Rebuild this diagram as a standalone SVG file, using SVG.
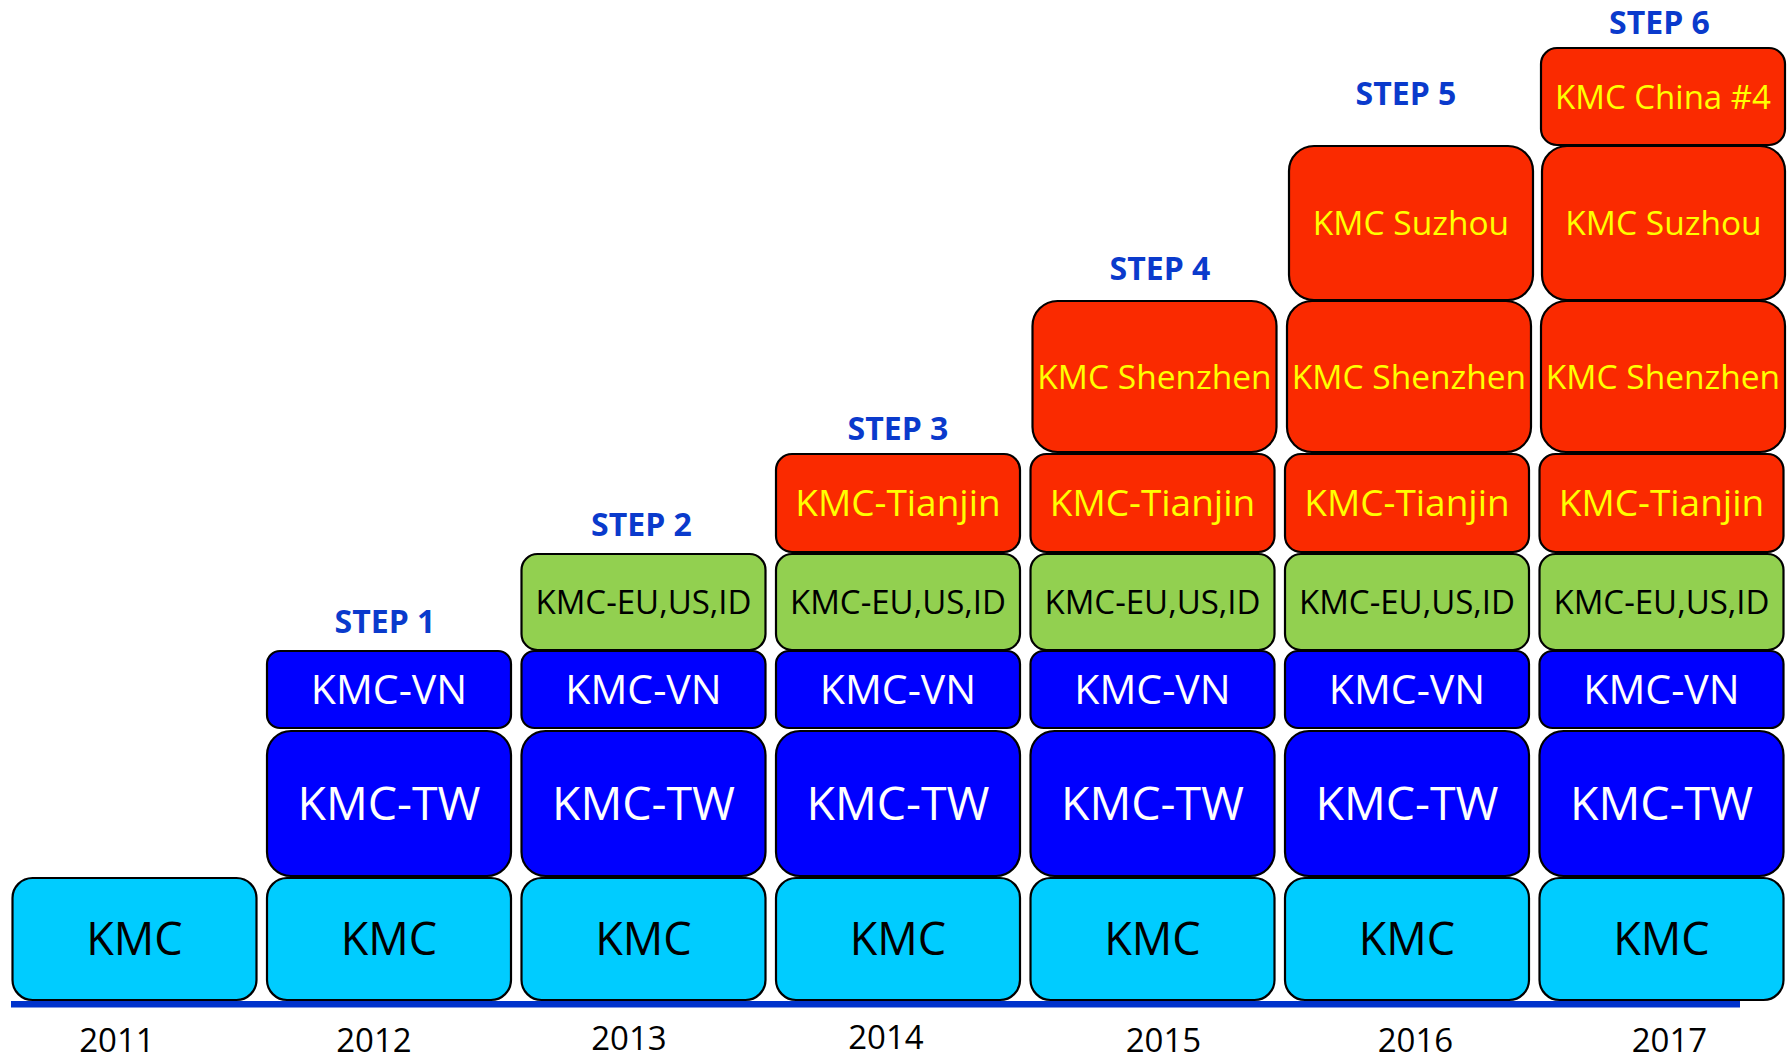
<svg xmlns="http://www.w3.org/2000/svg" width="1787" height="1059" viewBox="0 0 1787 1059">
<style>
.b{stroke:#000;stroke-width:2.2}
.kmc{fill:#00CCFF}
.blu{fill:#0000FF}
.grn{fill:#92D050}
.red{fill:#FA2A00}
text{font-family:"Open Sans","Noto Sans","DejaVu Sans",sans-serif;text-anchor:middle}
.tk{fill:#000;font-size:45px}
.tw{fill:#fff;font-size:46.5px}
.tv{fill:#fff;font-size:41px}
.te{fill:#000;font-size:33px}
.ty{fill:#FFFF00;font-size:37px}
.ts{fill:#FFFF00;font-size:33.5px}
.tc{fill:#FFFF00;font-size:33px}
.st{fill:#0A3ACC;font-size:32px;font-weight:bold}
.yr{fill:#000;font-size:33px}
</style>
<rect width="1787" height="1059" fill="#fff"/>
<g id="axis">
<rect x="11" y="1001" width="1729" height="6.5" fill="#0033CC"/>
</g>
<g id="connectors"></g>
<g id="col2011">
<g id="kmc-2011"><rect class="b kmc" x="12.5" y="878" width="244" height="122" rx="20"/><text class="tk" x="134.5" y="955">KMC</text></g>
</g>
<g id="col2012">
<g id="kmc-2012"><rect class="b kmc" x="267" y="878" width="244" height="122" rx="20"/><text class="tk" x="389" y="955">KMC</text></g>
<g id="tw-2012"><rect class="b blu" x="267" y="731" width="244" height="145" rx="24"/><text class="tw" x="389" y="820">KMC-TW</text></g>
<g id="vn-2012"><rect class="b blu" x="267" y="651" width="244" height="77" rx="13"/><text class="tv" x="389" y="704">KMC-VN</text></g>
</g>
<g id="col2013">
<g id="kmc-2013"><rect class="b kmc" x="521.5" y="878" width="244" height="122" rx="20"/><text class="tk" x="643.5" y="955">KMC</text></g>
<g id="tw-2013"><rect class="b blu" x="521.5" y="731" width="244" height="145" rx="24"/><text class="tw" x="643.5" y="820">KMC-TW</text></g>
<g id="vn-2013"><rect class="b blu" x="521.5" y="651" width="244" height="77" rx="13"/><text class="tv" x="643.5" y="704">KMC-VN</text></g>
<g id="eu-2013"><rect class="b grn" x="521.5" y="554" width="244" height="96" rx="16"/><text class="te" x="643.5" y="614">KMC-EU,US,ID</text></g>
</g>
<g id="col2014">
<g id="kmc-2014"><rect class="b kmc" x="776" y="878" width="244" height="122" rx="20"/><text class="tk" x="898" y="955">KMC</text></g>
<g id="tw-2014"><rect class="b blu" x="776" y="731" width="244" height="145" rx="24"/><text class="tw" x="898" y="820">KMC-TW</text></g>
<g id="vn-2014"><rect class="b blu" x="776" y="651" width="244" height="77" rx="13"/><text class="tv" x="898" y="704">KMC-VN</text></g>
<g id="eu-2014"><rect class="b grn" x="776" y="554" width="244" height="96" rx="16"/><text class="te" x="898" y="614">KMC-EU,US,ID</text></g>
<g id="tj-2014"><rect class="b red" x="776" y="454" width="244" height="98" rx="16"/><text class="ty" x="898" y="516">KMC-Tianjin</text></g>
</g>
<g id="col2015">
<g id="kmc-2015"><rect class="b kmc" x="1030.5" y="878" width="244" height="122" rx="20"/><text class="tk" x="1152.5" y="955">KMC</text></g>
<g id="tw-2015"><rect class="b blu" x="1030.5" y="731" width="244" height="145" rx="24"/><text class="tw" x="1152.5" y="820">KMC-TW</text></g>
<g id="vn-2015"><rect class="b blu" x="1030.5" y="651" width="244" height="77" rx="13"/><text class="tv" x="1152.5" y="704">KMC-VN</text></g>
<g id="eu-2015"><rect class="b grn" x="1030.5" y="554" width="244" height="96" rx="16"/><text class="te" x="1152.5" y="614">KMC-EU,US,ID</text></g>
<g id="tj-2015"><rect class="b red" x="1030.5" y="454" width="244" height="98" rx="16"/><text class="ty" x="1152.5" y="516">KMC-Tianjin</text></g>
<g id="sz-2015"><rect class="b red" x="1032.5" y="301" width="244" height="151" rx="25"/><text class="ts" x="1154.5" y="388.5">KMC Shenzhen</text></g>
</g>
<g id="col2016">
<g id="kmc-2016"><rect class="b kmc" x="1285" y="878" width="244" height="122" rx="20"/><text class="tk" x="1407" y="955">KMC</text></g>
<g id="tw-2016"><rect class="b blu" x="1285" y="731" width="244" height="145" rx="24"/><text class="tw" x="1407" y="820">KMC-TW</text></g>
<g id="vn-2016"><rect class="b blu" x="1285" y="651" width="244" height="77" rx="13"/><text class="tv" x="1407" y="704">KMC-VN</text></g>
<g id="eu-2016"><rect class="b grn" x="1285" y="554" width="244" height="96" rx="16"/><text class="te" x="1407" y="614">KMC-EU,US,ID</text></g>
<g id="tj-2016"><rect class="b red" x="1285" y="454" width="244" height="98" rx="16"/><text class="ty" x="1407" y="516">KMC-Tianjin</text></g>
<g id="sz-2016"><rect class="b red" x="1287" y="301" width="244" height="151" rx="25"/><text class="ts" x="1409" y="388.5">KMC Shenzhen</text></g>
<g id="su-2016"><rect class="b red" x="1289" y="146" width="244" height="154" rx="25"/><text class="ts" x="1411" y="235">KMC Suzhou</text></g>
</g>
<g id="col2017">
<g id="kmc-2017"><rect class="b kmc" x="1539.5" y="878" width="244" height="122" rx="20"/><text class="tk" x="1661.5" y="955">KMC</text></g>
<g id="tw-2017"><rect class="b blu" x="1539.5" y="731" width="244" height="145" rx="24"/><text class="tw" x="1661.5" y="820">KMC-TW</text></g>
<g id="vn-2017"><rect class="b blu" x="1539.5" y="651" width="244" height="77" rx="13"/><text class="tv" x="1661.5" y="704">KMC-VN</text></g>
<g id="eu-2017"><rect class="b grn" x="1539.5" y="554" width="244" height="96" rx="16"/><text class="te" x="1661.5" y="614">KMC-EU,US,ID</text></g>
<g id="tj-2017"><rect class="b red" x="1539.5" y="454" width="244" height="98" rx="16"/><text class="ty" x="1661.5" y="516">KMC-Tianjin</text></g>
<g id="sz-2017"><rect class="b red" x="1541" y="301" width="244" height="151" rx="25"/><text class="ts" x="1663" y="388.5">KMC Shenzhen</text></g>
<g id="su-2017"><rect class="b red" x="1542" y="146" width="243" height="154" rx="25"/><text class="ts" x="1663.5" y="235">KMC Suzhou</text></g>
<g id="cn4-2017"><rect class="b red" x="1541" y="48" width="244" height="97" rx="16"/><text class="tc" x="1663" y="108.5">KMC China #4</text></g>
</g>
<g id="steps">
<text class="st" x="385" y="632.5">STEP 1</text>
<text class="st" x="641.5" y="535.5">STEP 2</text>
<text class="st" x="898" y="440">STEP 3</text>
<text class="st" x="1160" y="280">STEP 4</text>
<text class="st" x="1406" y="105">STEP 5</text>
<text class="st" x="1659.5" y="34">STEP 6</text>
</g>
<g id="years">
<text class="yr" x="117" y="1052">2011</text>
<text class="yr" x="374" y="1052">2012</text>
<text class="yr" x="629" y="1050">2013</text>
<text class="yr" x="886" y="1049">2014</text>
<text class="yr" x="1163.5" y="1052">2015</text>
<text class="yr" x="1415.5" y="1052">2016</text>
<text class="yr" x="1669.5" y="1052">2017</text>
</g>
</svg>
